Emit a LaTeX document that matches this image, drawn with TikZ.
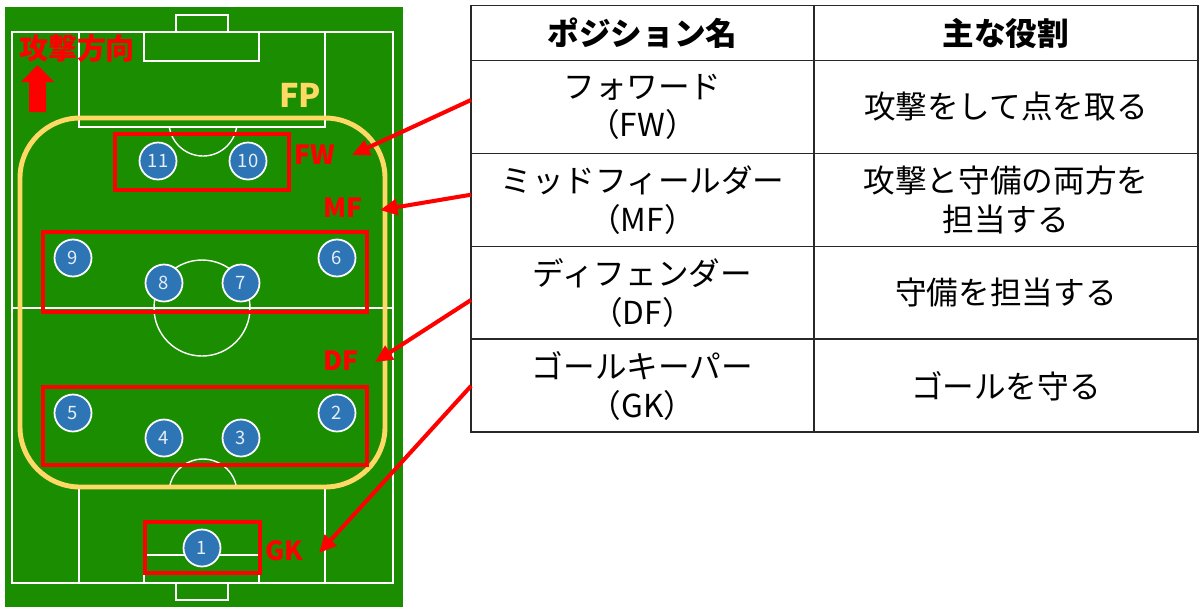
\documentclass[tikz,border=0pt]{standalone}
\usepackage{fontspec}
\setmainfont{Noto Sans CJK JP}
\usetikzlibrary{arrows.meta,positioning}
\definecolor{pitchgreen}{RGB}{26,142,0}
\definecolor{playerblue}{RGB}{46,117,182}
\definecolor{fpyellow}{RGB}{255,217,102}
\definecolor{gridgray}{RGB}{40,40,40}
\tikzset{
    % Pitch styles
    pitchline/.style={draw=white, line width=0.8pt},
    fpline/.style={draw=fpyellow, line width=2.8pt, rounded corners=1.2cm},
    groupbox/.style={draw=red, line width=2.3pt},
    player/.style={
        circle, draw=white, line width=1pt, fill=playerblue,
        minimum size=0.74cm, inner sep=0pt,
        text=white!88!playerblue, font=\fontsize{10.5}{10.5}\selectfont
    },
    poslabel/.style={text=red, font=\bfseries\fontsize{15}{15}\selectfont},
    pointer/.style={
        -{Triangle[length=10pt,width=9pt]}, draw=red, line width=2.3pt
    },
    % Table styles
    cell/.style={
        rectangle, draw=gridgray, line width=1.1pt,
        inner sep=0pt, outer sep=0pt, minimum height=1.86cm,
        align=center, font=\fontsize{18}{22}\selectfont
    },
    namecell/.style={cell, minimum width=6.86cm},
    rolecell/.style={cell, minimum width=7.68cm},
    headcell/.style={minimum height=1.1cm, font=\bfseries\fontsize{18}{22}\selectfont}
}
\begin{document}
\begin{tikzpicture}[x=0.02cm, y=-0.02cm]
\useasboundingbox (0,0) rectangle (1200,610);

% Pitch
\fill[pitchgreen] (5,7) rectangle (403,607);
\draw[pitchline] (12,32) rectangle (393,583);
\draw[pitchline] (12,308) -- (393,308);
\draw[pitchline] (202,308) circle (48);
\draw[pitchline] (176,15) rectangle (228,32);
\draw[pitchline] (144,32) rectangle (259,61);
\draw[pitchline] (79,32) rectangle (325,127);
\draw[pitchline] (176,583) rectangle (228,600);
\draw[pitchline] (144,555) rectangle (259,583);
\draw[pitchline] (79,488) rectangle (325,583);
\begin{scope}
  \clip (79,127) rectangle (325,170);
  \draw[pitchline] (203,122) circle (34);
\end{scope}
\begin{scope}
  \clip (79,440) rectangle (325,488);
  \draw[pitchline] (203,493) circle (34);
\end{scope}

% Attack direction
\node[text=red, font=\bfseries\fontsize{16.5}{16.5}\selectfont] (attack) at (77,49) {攻撃方向};
\fill[red] (29,112) -- (29,82) -- (21,82) -- (37.5,65) -- (54,82) -- (46,82) -- (46,112) -- cycle;

% Field players area
\draw[fpline] (20,118) rectangle (385,487);
\node[text=fpyellow, font=\bfseries\fontsize{18.5}{18.5}\selectfont] (fp_lbl) at (300,95) {FP};

% Position groups
\draw[groupbox] (115,134) rectangle (289,190);
\draw[groupbox] (43,232) rectangle (367,312);
\draw[groupbox] (43,387) rectangle (367,465);
\draw[groupbox] (145,522) rectangle (260,573);

% Players
\foreach \num/\px/\py in {1/202/548, 2/337/413, 3/241/438, 4/164/438, 5/73/413,
    6/337/258, 7/241/283, 8/164/283, 9/73/258, 10/248/161, 11/158/161}
  \node[player] (p\num) at (\px,\py) {\num};

% Position labels
\node[poslabel] (fw_lbl) at (315,155) {FW};
\node[poslabel] (mf_lbl) at (343,208) {MF};
\node[poslabel] (df_lbl) at (341,361) {DF};
\node[poslabel] (gk_lbl) at (284,551) {GK};

% Table
\node[namecell, headcell] (hdr_name) at (642.5,33) {ポジション名};
\node[rolecell, headcell, right=0pt of hdr_name] (hdr_role) {主な役割};
\node[namecell, below=0pt of hdr_name] (fw_name) {フォワード\\（FW）};
\node[rolecell, right=0pt of fw_name] (fw_role) {攻撃をして点を取る};
\node[namecell, below=0pt of fw_name] (mf_name) {ミッドフィールダー\\（MF）};
\node[rolecell, right=0pt of mf_name] (mf_role) {攻撃と守備の両方を\\担当する};
\node[namecell, below=0pt of mf_name] (df_name) {ディフェンダー\\（DF）};
\node[rolecell, right=0pt of df_name] (df_role) {守備を担当する};
\node[namecell, below=0pt of df_name] (gk_name) {ゴールキーパー\\（GK）};
\node[rolecell, right=0pt of gk_name] (gk_role) {ゴールを守る};

% Pointers
\coordinate (fw_tip) at (352,155);
\coordinate (mf_tip) at (380,210);
\coordinate (df_tip) at (375,362);
\coordinate (gk_tip) at (319,553);
\draw[pointer] ([yshift=4]fw_name.west) -- (fw_tip);
\draw[pointer] ([yshift=3]mf_name.west) -- (mf_tip);
\draw[pointer] ([yshift=-4]df_name.west) -- (df_tip);
\draw[pointer] (gk_name.west) -- (gk_tip);

\end{tikzpicture}
\end{document}
